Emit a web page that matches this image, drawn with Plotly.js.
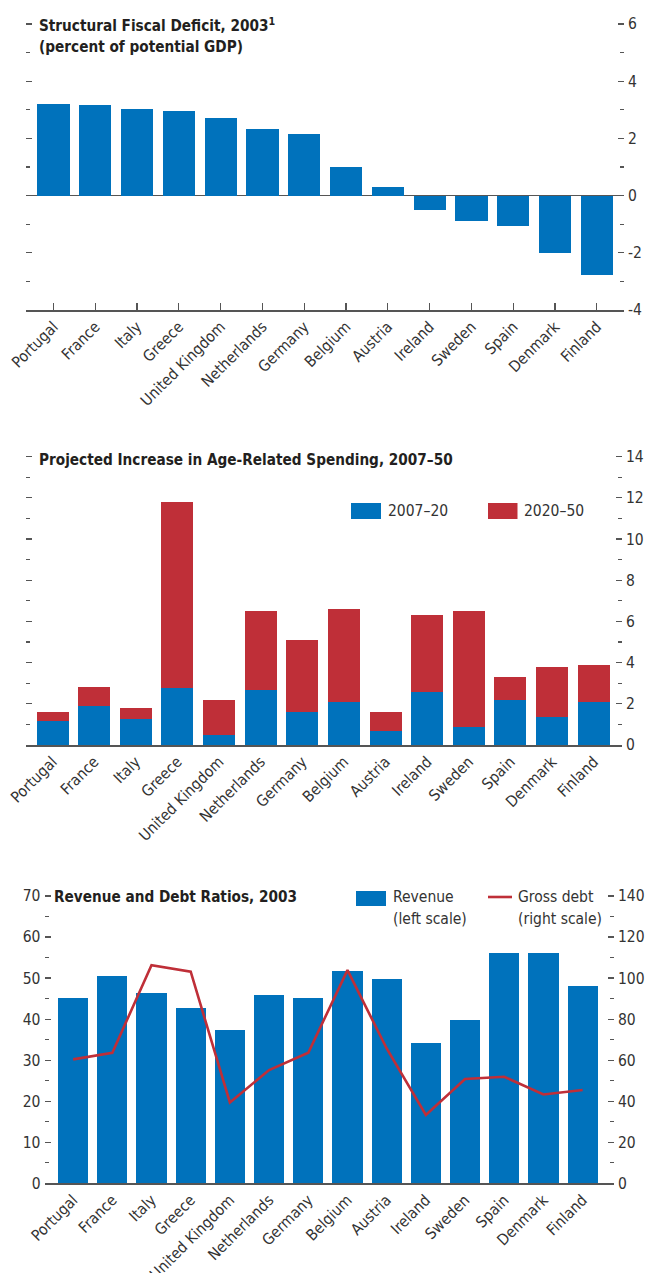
<!DOCTYPE html>
<html>
<head>
<meta charset="utf-8">
<script src="https://cdn.plot.ly/plotly-3.0.1.min.js"></script>
<style>
html,body{margin:0;padding:0;background:#fff;}
#chart{width:646px;height:1273px;}
</style>
</head>
<body>
<div id="chart"></div>
<script>
// ---------- DATA ----------
var countries = ["Portugal","France","Italy","Greece","United Kingdom","Netherlands","Germany","Belgium","Austria","Ireland","Sweden","Spain","Denmark","Finland"];

// Panel 1: Structural fiscal deficit, 2003 (percent of potential GDP)
var structuralDeficit = [3.21, 3.17, 3.03, 2.97, 2.72, 2.34, 2.16, 1.01, 0.31, -0.52, -0.90, -1.05, -1.99, -2.79];
var deficitTickVals = [-4, -2, 0, 2, 4, 6];
var deficitTickText = ["-4", "-2", "0", "2", "4", "6"];

// Panel 2: Projected increase in age-related spending
var spend2007_20 = [1.17, 1.91, 1.26, 2.78, 0.49, 2.69, 1.62, 2.10, 0.68, 2.59, 0.87, 2.20, 1.36, 2.10];
var spend2020_50 = [0.43, 0.91, 0.54, 9.02, 1.69, 3.81, 3.48, 4.50, 0.92, 3.72, 5.63, 1.10, 2.43, 1.78];

// Panel 3: Revenue (left scale) and gross debt (right scale), 2003
var revenue   = [45.1, 50.5, 46.3, 42.7, 37.3, 45.9, 45.1, 51.7, 49.8, 34.2, 39.8, 56.1, 56.1, 48.1];
var grossDebt = [60.4, 63.6, 106.3, 103.1, 39.4, 55.2, 63.6, 103.9, 65.7, 33.3, 50.8, 51.9, 43.3, 45.5];

var title1a = "Structural Fiscal Deficit, 2003<sup>1</sup>";
var title1b = "(percent of potential GDP)";
var title2  = "Projected Increase in Age-Related Spending, 2007–50";
var title3  = "Revenue and Debt Ratios, 2003";
var legend2 = ["2007–20", "2020–50"];
var legend3 = ["Revenue", "(left scale)", "Gross debt", "(right scale)"];

// ---------- STYLE ----------
var BLUE = "#0072BC", RED = "#BF2F38", AX = "#555555", TXT = "#231F20";
var FONT = "'DejaVu Sans Condensed', 'Liberation Sans Narrow', 'Arial Narrow', sans-serif";
var FS = 15.5, TFS = 15.2;
var W = 646, H = 1273;
function px(x){ return x / W; }
function py(y){ return 1 - y / H; }

var traces = [
  {type:"bar", x:countries, y:structuralDeficit, xaxis:"x", yaxis:"y",
   marker:{color:BLUE}, width:0.77, showlegend:false},
  {type:"bar", x:countries, y:spend2007_20, xaxis:"x2", yaxis:"y2", name:legend2[0],
   marker:{color:BLUE}, width:0.77, showlegend:false},
  {type:"bar", x:countries, y:spend2020_50, xaxis:"x2", yaxis:"y2", name:legend2[1],
   marker:{color:RED}, width:0.77, showlegend:false},
  {type:"bar", x:countries, y:revenue, xaxis:"x3", yaxis:"y3", name:"Revenue",
   marker:{color:BLUE}, width:0.77, showlegend:false},
  {type:"scatter", mode:"lines", x:countries, y:grossDebt, xaxis:"x3", yaxis:"y4", name:"Gross debt",
   line:{color:RED, width:2.6}, showlegend:false}
];

function xax(domain, anchor, range, ticks){
  return {domain:domain, anchor:anchor, type:"category", range:range,
    showline:true, linecolor:AX, linewidth:1.6, ticks:ticks, ticklen:7, tickcolor:AX, tickwidth:1.2,
    tickangle:-45, tickfont:{family:FONT, size:FS, color:"#333"}, showgrid:false, zeroline:false,
    automargin:false, fixedrange:true};
}
function yax(domain, anchor, range, dtick, mdtick, side, mirror, zeroline){
  return {domain:domain, anchor:anchor, range:range, dtick:dtick, tick0:0, side:side,
    showline:false, showgrid:false, zeroline:zeroline, zerolinecolor:AX, zerolinewidth:1.6,
    ticks:"inside", ticklen:6, tickwidth:1.2, tickcolor:AX, mirror:mirror, ticklabelstandoff:3,
    minor:{ticks:"inside", ticklen:4, dtick:mdtick, tick0:0, tickcolor:AX, tickwidth:1.2, showgrid:false},
    showticklabels:true, tickfont:{family:FONT, size:FS, color:"#333"},
    automargin:false, fixedrange:true};
}

// Axis pixel geometry (value -> pixel)
// top panel: 6 at y=24, -4 at y=310 ; middle: 14 at 456.7, 0 at 745 ; bottom: 70 at 896, 0 at 1183.3
// ranges are extended a few pixels past the top tick so the end tick is drawn
var pu1 = (310 - 24) / 10, ex1 = 4 / pu1;
var pu2 = (745 - 456.7) / 14, ex2 = 4 / pu2;
var pu3 = (1183.3 - 896) / 70, ex3 = 4 / pu3;

var d1x = [px(25.5), px(624)], d1y = [py(310), py(24 - 4)];
var d2x = [px(25.5), px(622)], d2y = [py(745), py(456.7 - 4)];
var d3x = [px(44.5), px(614)], d3y = [py(1183.3), py(896 - 4)];

var y1 = yax(d1y, "x", [-4, 6 + ex1], 2, 1, "right", "ticks", true);
y1.tickmode = "array"; y1.tickvals = deficitTickVals; y1.ticktext = deficitTickText;

var layout = {
  width:W, height:H, margin:{l:0,r:0,t:0,b:0}, paper_bgcolor:"#fff", plot_bgcolor:"rgba(0,0,0,0)",
  barmode:"stack", showlegend:false,
  font:{family:FONT, color:TXT},
  xaxis:  xax(d1x, "y",  [-0.67, 13.65], "inside"),
  xaxis2: xax(d2x, "y2", [-0.65, 13.68], ""),
  xaxis3: xax(d3x, "y3", [-0.73, 13.8], ""),
  yaxis:  y1,
  yaxis2: yax(d2y, "x2", [0, 14 + ex2], 2, 1, "right", "ticks", false),
  yaxis3: yax(d3y, "x3", [0, 70 + ex3], 10, 5, "left", false, false),
  yaxis4: Object.assign(yax(d3y, "x3", [0, 140 + 2 * ex3], 20, 10, "right", false, false), {overlaying:"y3"}),
  annotations:[
    {text:title1a, x:px(37), y:py(25), xref:"paper", yref:"paper", xanchor:"left", yanchor:"middle", showarrow:false,
     font:{family:FONT, size:TFS, color:TXT, weight:"bold"}},
    {text:title1b, x:px(37), y:py(47.5), xref:"paper", yref:"paper", xanchor:"left", yanchor:"middle", showarrow:false,
     font:{family:FONT, size:TFS, color:TXT, weight:"bold"}},
    {text:title2, x:px(37), y:py(460), xref:"paper", yref:"paper", xanchor:"left", yanchor:"middle", showarrow:false,
     font:{family:FONT, size:TFS, color:TXT, weight:"bold"}},
    {text:title3, x:px(52), y:py(897), xref:"paper", yref:"paper", xanchor:"left", yanchor:"middle", showarrow:false,
     font:{family:FONT, size:TFS, color:TXT, weight:"bold"}},
    {text:legend2[0], x:px(386), y:py(511), xref:"paper", yref:"paper", xanchor:"left", yanchor:"middle", showarrow:false,
     font:{family:FONT, size:FS, color:"#333"}},
    {text:legend2[1], x:px(522), y:py(511), xref:"paper", yref:"paper", xanchor:"left", yanchor:"middle", showarrow:false,
     font:{family:FONT, size:FS, color:"#333"}},
    {text:legend3[0], x:px(391), y:py(897), xref:"paper", yref:"paper", xanchor:"left", yanchor:"middle", showarrow:false,
     font:{family:FONT, size:FS, color:"#333"}},
    {text:legend3[1], x:px(391), y:py(919), xref:"paper", yref:"paper", xanchor:"left", yanchor:"middle", showarrow:false,
     font:{family:FONT, size:FS, color:"#333"}},
    {text:legend3[2], x:px(516), y:py(897), xref:"paper", yref:"paper", xanchor:"left", yanchor:"middle", showarrow:false,
     font:{family:FONT, size:FS, color:"#333"}},
    {text:legend3[3], x:px(516), y:py(919), xref:"paper", yref:"paper", xanchor:"left", yanchor:"middle", showarrow:false,
     font:{family:FONT, size:FS, color:"#333"}}
  ],
  shapes:[
    {type:"rect", xref:"paper", yref:"paper", x0:px(351), x1:px(381), y0:py(519), y1:py(503), fillcolor:BLUE, line:{width:0}},
    {type:"rect", xref:"paper", yref:"paper", x0:px(488), x1:px(517.5), y0:py(519), y1:py(503), fillcolor:RED, line:{width:0}},
    {type:"rect", xref:"paper", yref:"paper", x0:px(356), x1:px(386), y0:py(906), y1:py(891), fillcolor:BLUE, line:{width:0}},
    {type:"line", xref:"paper", yref:"paper", x0:px(488), x1:px(512), y0:py(897), y1:py(897), line:{color:RED, width:2.6}}
  ]
};

Plotly.newPlot("chart", traces, layout, {staticPlot:true, displayModeBar:false});
</script>
</body>
</html>
